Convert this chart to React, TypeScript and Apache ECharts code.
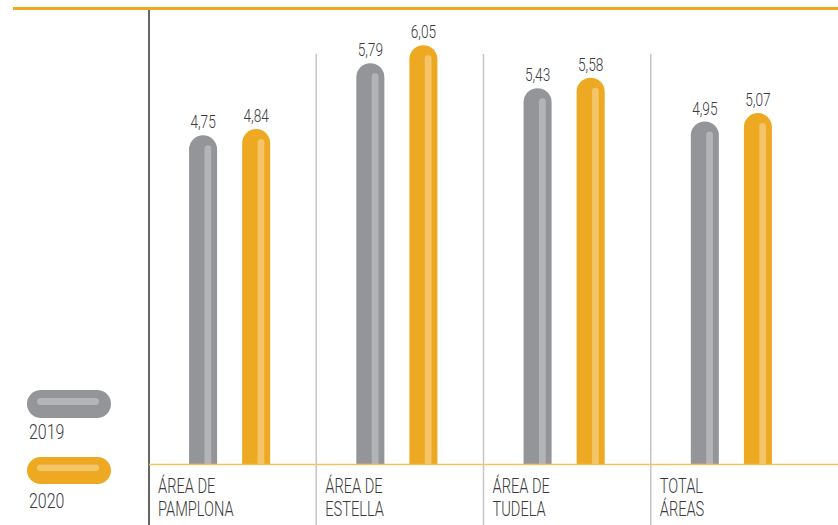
import React, { useEffect, useRef } from "react";
import * as echarts from "echarts";

const categories = ["ÁREA DE\nPAMPLONA", "ÁREA DE\nESTELLA", "ÁREA DE\nTUDELA", "TOTAL\nÁREAS"];
const years = ["2019", "2020"];
const values2019 = [4.75, 5.79, 5.43, 4.95];
const values2020 = [4.84, 6.05, 5.58, 5.07];

const FONT = "Roboto, 'Liberation Sans', sans-serif";
const TEXT_COLOR = "#3a3a3c";
const GRAY = "#939598";
const GRAY_LIGHT = "#b3b4b6";
const ORANGE = "#eda921";
const ORANGE_LIGHT = "#f4c468";

function makeRender(offsetFrac: number, fill: string, stripe: string, drawDecor: boolean) {
  return (params: any, api: any) => {
    const idx = api.value(0);
    const v = api.value(1);
    const base = api.coord([idx, 0]);
    const top = api.coord([idx, v]);
    const band = api.size([1, 0])[0];
    const w = (28 / 167) * band;
    const cx = base[0] + offsetFrac * band;
    const h = base[1] - top[1];
    const children: any[] = [
      {
        type: "rect",
        shape: { x: cx - w / 2, y: top[1], width: w, height: h, r: [w / 2, w / 2, 0, 0] },
        style: { fill },
      },
      {
        type: "rect",
        shape: { x: cx - w / 2 + 0.55 * w, y: top[1] + 10, width: 0.24 * w, height: h - 10, r: [3.3, 3.3, 0, 0] },
        style: { fill: stripe },
      },
      {
        type: "text",
        x: cx,
        y: top[1] - 4,
        scaleX: 0.76,
        style: {
          text: v.toFixed(2).replace(".", ","),
          textAlign: "center",
          textVerticalAlign: "bottom",
          fontFamily: FONT,
          fontWeight: 300,
          fontSize: 18,
          fill: TEXT_COLOR,
        },
      },
    ];
    if (drawDecor) {
      const left = base[0] - band / 2;
      if (idx > 0) {
        children.push({
          type: "line",
          shape: { x1: left, y1: 54, x2: left, y2: 525 },
          style: { stroke: "#c6c6c6", lineWidth: 1.5 },
        });
      }
      children.push({
        type: "text",
        x: left + 9,
        y: 475,
        scaleX: 0.75,
        style: {
          text: categories[idx],
          textAlign: "left",
          textVerticalAlign: "top",
          fontFamily: FONT,
          fontWeight: 300,
          fontSize: 19.5,
          lineHeight: 23,
          fill: TEXT_COLOR,
        },
      });
    }
    return { type: "group", children };
  };
}

export default function App() {
  const ref = useRef<HTMLDivElement>(null);
  useEffect(() => {
    if (!ref.current) return;
    const chart = echarts.init(ref.current, null, { renderer: "svg" });
    chart.setOption({
      animation: false,
      grid: { left: 149, right: 20, top: 14, bottom: 60.5 },
      xAxis: {
        type: "category",
        data: categories,
        axisLine: { show: false },
        axisTick: { show: false },
        axisLabel: { show: false },
        splitLine: { show: false },
      },
      yAxis: {
        type: "value",
        min: 0,
        max: 6.5,
        show: false,
        splitLine: { show: false },
      },
      graphic: [
        { type: "rect", shape: { x: 13, y: 7, width: 825, height: 3 }, style: { fill: ORANGE } },
        { type: "line", shape: { x1: 149, y1: 10, x2: 149, y2: 525 }, style: { stroke: "#333333", lineWidth: 1.5 } },
        { type: "line", shape: { x1: 149, y1: 464.5, x2: 838, y2: 464.5 }, style: { stroke: "#f2c25f", lineWidth: 1.5 }, z: 10 },
        { type: "rect", shape: { x: 27, y: 390, width: 84, height: 28, r: 14 }, style: { fill: GRAY } },
        { type: "rect", shape: { x: 37, y: 398, width: 62, height: 7, r: 3.5 }, style: { fill: GRAY_LIGHT } },
        { type: "text", x: 29, y: 432, scaleX: 0.76, style: { text: years[0], fontFamily: FONT, fontWeight: 300, fontSize: 21, fill: TEXT_COLOR, textVerticalAlign: "middle" } },
        { type: "rect", shape: { x: 27, y: 457, width: 84, height: 27, r: 13.5 }, style: { fill: ORANGE } },
        { type: "rect", shape: { x: 37, y: 464.5, width: 62, height: 6.5, r: 3.25 }, style: { fill: ORANGE_LIGHT } },
        { type: "text", x: 29, y: 501, scaleX: 0.76, style: { text: years[1], fontFamily: FONT, fontWeight: 300, fontSize: 21, fill: TEXT_COLOR, textVerticalAlign: "middle" } },
      ],
      series: [
        {
          name: years[0],
          type: "custom",
          clip: false,
          encode: { x: 0, y: 1 },
          data: values2019.map((v, i) => [i, v]),
          renderItem: makeRender(-29.5 / 167, GRAY, GRAY_LIGHT, true),
        },
        {
          name: years[1],
          type: "custom",
          clip: false,
          encode: { x: 0, y: 1 },
          data: values2020.map((v, i) => [i, v]),
          renderItem: makeRender(23.5 / 167, ORANGE, ORANGE_LIGHT, false),
        },
      ],
    });
    return () => chart.dispose();
  }, []);
  return (
    <div
      ref={ref}
      style={{ position: "absolute", left: 0, top: 0, width: 838, height: 525, background: "#ffffff" }}
    />
  );
}
